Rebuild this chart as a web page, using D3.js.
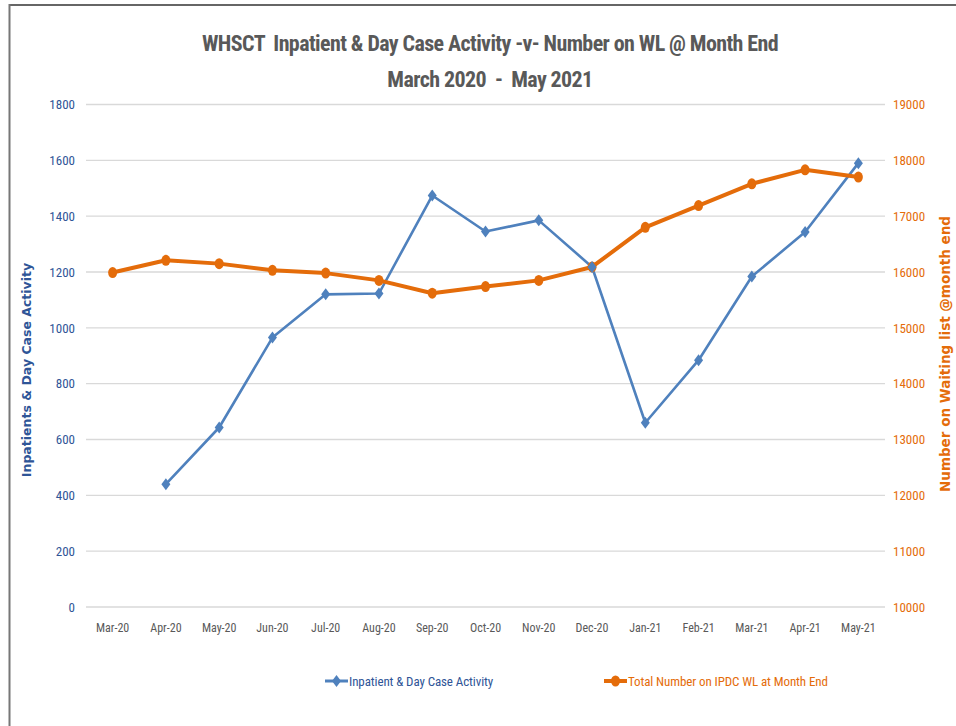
<!DOCTYPE html>
<html>
<head>
<meta charset="utf-8">
<script src="https://cdn.jsdelivr.net/npm/d3@7/dist/d3.min.js"></script>
<style>
  html, body { margin: 0; padding: 0; background: #fff; }
  svg { display: block; }
  text { font-family: "Roboto Condensed", "Liberation Sans Narrow", "Arial Narrow", Roboto, sans-serif; white-space: pre; }
</style>
</head>
<body>
<script>
const months = ["Mar-20","Apr-20","May-20","Jun-20","Jul-20","Aug-20","Sep-20","Oct-20","Nov-20","Dec-20","Jan-21","Feb-21","Mar-21","Apr-21","May-21"];
const activity = [null, 440, 643, 965, 1120, 1123, 1474, 1345, 1385, 1218, 660, 884, 1184, 1343, 1590];
const waitingList = [15990, 16210, 16150, 16030, 15980, 15850, 15620, 15740, 15850, 16090, 16800, 17190, 17580, 17830, 17700];
const leftTicks = [0, 200, 400, 600, 800, 1000, 1200, 1400, 1600, 1800];
const rightTicks = [10000, 11000, 12000, 13000, 14000, 15000, 16000, 17000, 18000, 19000];
const titleLines = ["WHSCT  Inpatient & Day Case Activity -v- Number on WL @ Month End", "March 2020  -  May 2021"];
const seriesNames = ["Inpatient & Day Case Activity", "Total Number on IPDC WL at Month End"];

const W = 956, H = 726;
const blue = "#4F81BD", orange = "#E46C0A";
const blueText = "#2F5597", orangeText = "#E46C0A";
const svg = d3.select("body").append("svg").attr("width", W).attr("height", H);

// frame (top and left)
svg.append("line").attr("x1", 9).attr("x2", W).attr("y1", 5).attr("y2", 5).attr("stroke", "#666").attr("stroke-width", 2);
svg.append("line").attr("x1", 9.5).attr("x2", 9.5).attr("y1", 4).attr("y2", H).attr("stroke", "#777").attr("stroke-width", 2);

const plot = { left: 86, right: 885, top: 104.5, bottom: 607 };
const x = d3.scaleBand().domain(months).range([plot.left, plot.right]);
const yL = d3.scaleLinear().domain([0, 1800]).range([plot.bottom, plot.top]);
const yR = d3.scaleLinear().domain([10000, 19000]).range([plot.bottom, plot.top]);
const fmt = d3.format("d");

// title
svg.append("g").selectAll("text").data(titleLines).join("text")
  .attr("x", 490).attr("y", (d, i) => 51 + i * 36)
  .attr("text-anchor", "middle")
  .attr("font-size", 22).attr("font-weight", "bold").attr("letter-spacing", -0.6)
  .attr("fill", "#595959")
  .text(d => d);

// gridlines
svg.append("g").selectAll("line").data(leftTicks).join("line")
  .attr("x1", plot.left).attr("x2", plot.right)
  .attr("y1", d => yL(d)).attr("y2", d => yL(d))
  .attr("stroke", "#D9D9D9").attr("stroke-width", 1.3);

// left axis
const gL = svg.append("g").attr("transform", `translate(${plot.left},0)`)
  .call(d3.axisLeft(yL).tickValues(leftTicks).tickFormat(fmt).tickSize(0).tickPadding(11));
gL.select(".domain").remove();
gL.selectAll("text").attr("font-size", 13).attr("fill", blueText);

// right axis
const gR = svg.append("g").attr("transform", `translate(${plot.right},0)`)
  .call(d3.axisRight(yR).tickValues(rightTicks).tickFormat(fmt).tickSize(0).tickPadding(8));
gR.select(".domain").remove();
gR.selectAll("text").attr("font-size", 13).attr("fill", orangeText);

// x axis
const gX = svg.append("g").attr("transform", `translate(0,${plot.bottom})`)
  .call(d3.axisBottom(x).tickSize(0).tickPadding(16));
gX.select(".domain").remove();
gX.selectAll("text").attr("font-size", 12).attr("fill", "#595959");

// axis titles
svg.append("text")
  .attr("transform", `translate(31,370) rotate(-90)`)
  .attr("text-anchor", "middle")
  .attr("font-weight", "bold").attr("font-size", 12.5).attr("fill", blueText)
  .style("font-family", "'DejaVu Sans', Verdana, sans-serif")
  .text("Inpatients & Day Case Activity");
svg.append("text")
  .attr("transform", `translate(950,354) rotate(-90)`)
  .attr("text-anchor", "middle")
  .attr("font-weight", "bold").attr("font-size", 13.5).attr("fill", orangeText)
  .style("font-family", "'DejaVu Sans', Verdana, sans-serif")
  .text("Number on Waiting list @month end");

// blue series
const actData = months.map((m, i) => ({ m, v: activity[i] })).filter(d => d.v !== null);
const cx = m => x(m) + x.bandwidth() / 2;
svg.append("path").datum(actData)
  .attr("fill", "none").attr("stroke", blue).attr("stroke-width", 2.6).attr("stroke-linejoin", "round")
  .attr("d", d3.line().x(d => cx(d.m)).y(d => yL(d.v)));

// orange series
const wlData = months.map((m, i) => ({ m, v: waitingList[i] }));
svg.append("path").datum(wlData)
  .attr("fill", "none").attr("stroke", orange).attr("stroke-width", 4).attr("stroke-linejoin", "round")
  .attr("d", d3.line().x(d => cx(d.m)).y(d => yR(d.v)));
svg.append("g").selectAll("ellipse").data(wlData).join("ellipse")
  .attr("cx", d => cx(d.m)).attr("cy", d => yR(d.v))
  .attr("rx", 4.5).attr("ry", 5.5).attr("fill", orange);

// blue markers (diamonds) drawn on top
svg.append("g").selectAll("path").data(actData).join("path")
  .attr("transform", d => `translate(${cx(d.m)},${yL(d.v)})`)
  .attr("d", "M0,-6L4.5,0L0,6L-4.5,0Z").attr("fill", blue);

// legend
const legend = [
  { name: seriesNames[0], color: blue, textColor: blueText, x: 325, marker: "diamond" },
  { name: seriesNames[1], color: orange, textColor: orangeText, x: 604, marker: "circle" }
];
const lg = svg.append("g").selectAll("g").data(legend).join("g")
  .attr("transform", d => `translate(${d.x},681)`);
lg.append("line").attr("x1", 0).attr("x2", 23).attr("y1", 0).attr("y2", 0)
  .attr("stroke", d => d.color).attr("stroke-width", d => d.marker === "circle" ? 4 : 3);
lg.filter(d => d.marker === "diamond").append("path")
  .attr("d", "M11.5,-6L16,0L11.5,6L7,0Z").attr("fill", d => d.color);
lg.filter(d => d.marker === "circle").append("ellipse")
  .attr("cx", 11.5).attr("cy", 0).attr("rx", 4.5).attr("ry", 5.5).attr("fill", d => d.color);
lg.append("text").attr("x", 24).attr("y", 5)
  .attr("font-size", 13).attr("letter-spacing", -0.1).attr("fill", d => d.textColor).text(d => d.name);
</script>
</body>
</html>
